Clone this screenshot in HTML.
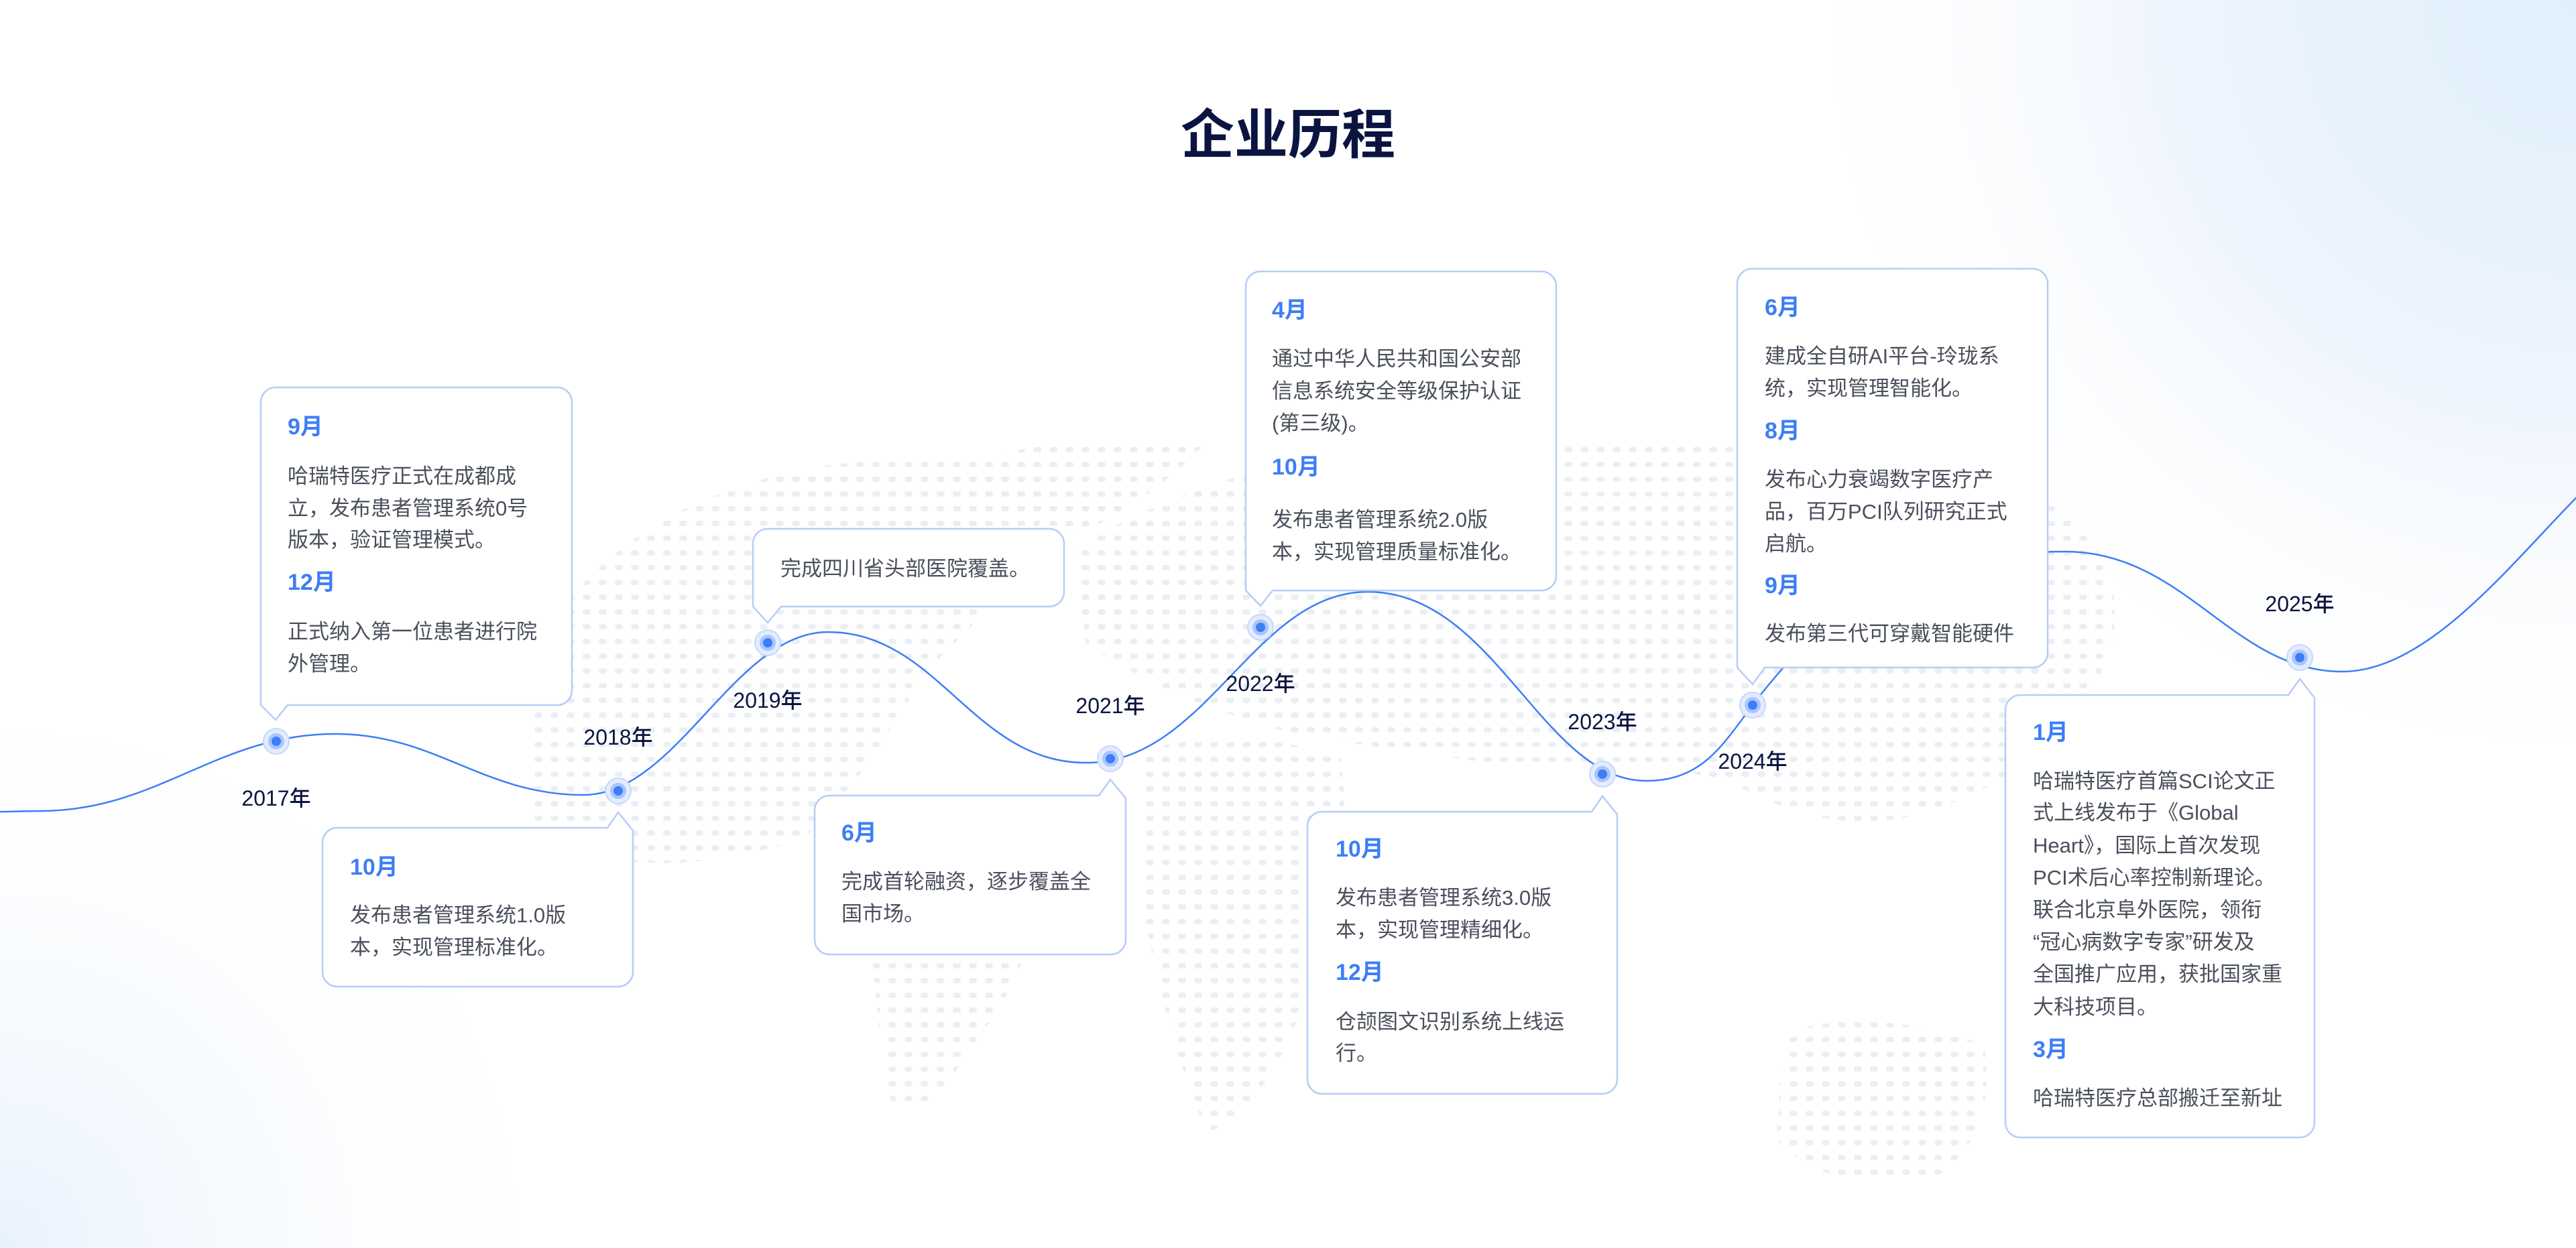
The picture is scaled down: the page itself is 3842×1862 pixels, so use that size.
<!DOCTYPE html>
<html><head><meta charset="utf-8">
<style>
html,body{margin:0;padding:0}
body{width:3842px;height:1862px;position:relative;overflow:hidden;background:#fff;font-family:"Liberation Sans","Noto Sans CJK SC",sans-serif}
svg{position:absolute;left:0;top:0}
.t{position:absolute;white-space:nowrap;line-height:48px;height:48px;font-size:31px;color:#4a4f5c}
.m{position:absolute;white-space:nowrap;line-height:48px;height:48px;font-size:34px;font-weight:bold;color:#3d7ef6}
.title{position:absolute;left:0;width:3842px;top:152px;text-align:center;font-size:80px;line-height:100px;font-weight:bold;color:#0b1440}
</style></head><body>
<svg width="3842" height="1862" viewBox="0 0 3842 1862">
<defs>
<radialGradient id="gtr" cx="3842" cy="0" r="1200" gradientUnits="userSpaceOnUse">
<stop offset="0" stop-color="#dff0fc"/><stop offset="0.5" stop-color="#eef4fd"/><stop offset="1" stop-color="#ffffff" stop-opacity="0"/></radialGradient>
<radialGradient id="gbl" cx="0" cy="1862" r="900" gradientUnits="userSpaceOnUse">
<stop offset="0" stop-color="#e8f2fd"/><stop offset="1" stop-color="#ffffff" stop-opacity="0"/></radialGradient>
<pattern id="dots" width="24" height="22" patternUnits="userSpaceOnUse">
<rect x="5" y="7" width="12" height="8" rx="4" fill="#dde4ef"/></pattern>
</defs>
<rect width="3842" height="1862" fill="#fff"/>
<rect width="3842" height="1862" fill="url(#gtr)"/>
<rect width="3842" height="1862" fill="url(#gbl)"/>
<g fill="url(#dots)" opacity="0.6">
<path d="M780 1000 Q900 760 1200 700 Q1500 650 1560 760 Q1500 900 1380 1000 Q1300 1150 1200 1250 Q1000 1320 800 1260 Z"/>
<path d="M1400 700 Q1600 640 1800 660 Q1700 760 1600 800 Z"/>
<path d="M1600 820 Q1900 640 2300 660 Q2700 640 3000 720 Q3180 800 3150 960 Q3100 1120 2950 1180 Q2800 1260 2650 1200 Q2500 1120 2300 1150 Q2100 1120 1950 1100 Q1750 1050 1620 960 Z"/>
<path d="M1700 1120 Q1850 1080 2000 1130 Q2020 1300 1960 1450 Q1900 1650 1800 1690 Q1720 1500 1700 1300 Z"/>
<path d="M1300 1230 Q1450 1220 1560 1300 Q1540 1450 1450 1560 Q1380 1680 1330 1650 Q1290 1450 1300 1230 Z"/>
<path d="M2660 1540 Q2800 1500 2960 1560 Q2980 1700 2880 1760 Q2720 1780 2650 1700 Z"/>
</g>
<path d="M-100 1212 C 10 1212 30 1210 60 1210 C 236 1210 324 1095 500 1095 C 650 1095 720 1186 870 1186 C 1010 1186 1095 943 1235 943 C 1400 943 1450 1138 1620 1138 C 1800 1138 1870 883 2040 883 C 2230 883 2300 1165 2455 1165 C 2540 1165 2570 1110 2614 1052 C 2680 965 2800 823 3080 823 C 3260 823 3330 1002 3493 1002 C 3630 1002 3760 820 3870 715" fill="none" stroke="#3d7ef6" stroke-width="2.5"/>
<g fill="#fff" stroke="#b7cdf7" stroke-width="2.5">
<path d="M411 578 H831 A22 22 0 0 1 853 600 V1030 A22 22 0 0 1 831 1052 H429 L411 1074 L389 1052 V600 A22 22 0 0 1 411 578 Z"/>
<path d="M503 1235 H906 L922 1212 L944 1239 V1450 A22 22 0 0 1 922 1472 H503 A22 22 0 0 1 481 1450 V1257 A22 22 0 0 1 503 1235 Z"/>
<path d="M1145 789 H1565 A22 22 0 0 1 1587 811 V883 A22 22 0 0 1 1565 905 H1165 L1145 929 L1123 905 V811 A22 22 0 0 1 1145 789 Z"/>
<path d="M1237 1187 H1639 L1656 1163 L1679 1191 V1402 A22 22 0 0 1 1657 1424 H1237 A22 22 0 0 1 1215 1402 V1209 A22 22 0 0 1 1237 1187 Z"/>
<path d="M1880 405 H2299 A22 22 0 0 1 2321 427 V859 A22 22 0 0 1 2299 881 H1898 L1880 904 L1858 881 V427 A22 22 0 0 1 1880 405 Z"/>
<path d="M1972 1211 H2374 L2390 1188 L2412 1215 V1610 A22 22 0 0 1 2390 1632 H1972 A22 22 0 0 1 1950 1610 V1233 A22 22 0 0 1 1972 1211 Z"/>
<path d="M2613 401 H3032 A22 22 0 0 1 3054 423 V974 A22 22 0 0 1 3032 996 H2632 L2614 1021 L2591 996 V423 A22 22 0 0 1 2613 401 Z"/>
<path d="M3013 1037 H3413 L3430 1013 L3452 1041 V1675 A22 22 0 0 1 3430 1697 H3013 A22 22 0 0 1 2991 1675 V1059 A22 22 0 0 1 3013 1037 Z"/>
</g>
<g>
<g transform="translate(412,1106)"><circle r="19" fill="#e3ecfe" stroke="#c4d7fb" stroke-width="2"/><circle r="12" fill="#a9c5fb"/><circle r="7" fill="#3d7ef6"/></g>
<g transform="translate(922,1180)"><circle r="19" fill="#e3ecfe" stroke="#c4d7fb" stroke-width="2"/><circle r="12" fill="#a9c5fb"/><circle r="7" fill="#3d7ef6"/></g>
<g transform="translate(1145,959)"><circle r="19" fill="#e3ecfe" stroke="#c4d7fb" stroke-width="2"/><circle r="12" fill="#a9c5fb"/><circle r="7" fill="#3d7ef6"/></g>
<g transform="translate(1656,1132)"><circle r="19" fill="#e3ecfe" stroke="#c4d7fb" stroke-width="2"/><circle r="12" fill="#a9c5fb"/><circle r="7" fill="#3d7ef6"/></g>
<g transform="translate(1880,936)"><circle r="19" fill="#e3ecfe" stroke="#c4d7fb" stroke-width="2"/><circle r="12" fill="#a9c5fb"/><circle r="7" fill="#3d7ef6"/></g>
<g transform="translate(2390,1155)"><circle r="19" fill="#e3ecfe" stroke="#c4d7fb" stroke-width="2"/><circle r="12" fill="#a9c5fb"/><circle r="7" fill="#3d7ef6"/></g>
<g transform="translate(2614,1052)"><circle r="19" fill="#e3ecfe" stroke="#c4d7fb" stroke-width="2"/><circle r="12" fill="#a9c5fb"/><circle r="7" fill="#3d7ef6"/></g>
<g transform="translate(3430,981)"><circle r="19" fill="#e3ecfe" stroke="#c4d7fb" stroke-width="2"/><circle r="12" fill="#a9c5fb"/><circle r="7" fill="#3d7ef6"/></g>
</g>
<g font-family="Liberation Sans, Noto Sans CJK SC, sans-serif" font-size="32" fill="#0b1440" text-anchor="middle" font-weight="500">
<text x="412" y="1202">2017年</text>
<text x="922" y="1111">2018年</text>
<text x="1145" y="1056">2019年</text>
<text x="1656" y="1064">2021年</text>
<text x="1880" y="1031">2022年</text>
<text x="2390" y="1088">2023年</text>
<text x="2614" y="1147">2024年</text>
<text x="3430" y="912">2025年</text>
</g>
</svg>
<div class="title">企业历程</div>

<div class="m" style="left:429px;top:613px">9月</div>
<div class="t" style="left:429px;top:687px">哈瑞特医疗正式在成都成</div>
<div class="t" style="left:429px;top:735px">立，发布患者管理系统0号</div>
<div class="t" style="left:429px;top:782px">版本，验证管理模式。</div>
<div class="m" style="left:429px;top:845px">12月</div>
<div class="t" style="left:429px;top:919px">正式纳入第一位患者进行院</div>
<div class="t" style="left:429px;top:967px">外管理。</div>

<div class="m" style="left:522px;top:1270px">10月</div>
<div class="t" style="left:522px;top:1342px">发布患者管理系统1.0版</div>
<div class="t" style="left:522px;top:1390px">本，实现管理标准化。</div>

<div class="t" style="left:1164px;top:825px">完成四川省头部医院覆盖。</div>

<div class="m" style="left:1255px;top:1219px">6月</div>
<div class="t" style="left:1255px;top:1292px">完成首轮融资，逐步覆盖全</div>
<div class="t" style="left:1255px;top:1340px">国市场。</div>

<div class="m" style="left:1897px;top:439px">4月</div>
<div class="t" style="left:1897px;top:512px">通过中华人民共和国公安部</div>
<div class="t" style="left:1897px;top:560px">信息系统安全等级保护认证</div>
<div class="t" style="left:1897px;top:608px">(第三级)。</div>
<div class="m" style="left:1897px;top:673px">10月</div>
<div class="t" style="left:1897px;top:752px">发布患者管理系统2.0版</div>
<div class="t" style="left:1897px;top:800px">本，实现管理质量标准化。</div>

<div class="m" style="left:1992px;top:1243px">10月</div>
<div class="t" style="left:1992px;top:1316px">发布患者管理系统3.0版</div>
<div class="t" style="left:1992px;top:1364px">本，实现管理精细化。</div>
<div class="m" style="left:1992px;top:1427px">12月</div>
<div class="t" style="left:1992px;top:1501px">仓颉图文识别系统上线运</div>
<div class="t" style="left:1992px;top:1548px">行。</div>

<div class="m" style="left:2632px;top:435px">6月</div>
<div class="t" style="left:2632px;top:508px">建成全自研AI平台-玲珑系</div>
<div class="t" style="left:2632px;top:556px">统，实现管理智能化。</div>
<div class="m" style="left:2632px;top:619px">8月</div>
<div class="t" style="left:2632px;top:692px">发布心力衰竭数字医疗产</div>
<div class="t" style="left:2632px;top:740px">品，百万PCI队列研究正式</div>
<div class="t" style="left:2632px;top:788px">启航。</div>
<div class="m" style="left:2632px;top:850px">9月</div>
<div class="t" style="left:2632px;top:922px">发布第三代可穿戴智能硬件</div>

<div class="m" style="left:3032px;top:1069px">1月</div>
<div class="t" style="left:3032px;top:1142px">哈瑞特医疗首篇SCI论文正</div>
<div class="t" style="left:3032px;top:1189px">式上线发布于《Global</div>
<div class="t" style="left:3032px;top:1238px">Heart》，国际上首次发现</div>
<div class="t" style="left:3032px;top:1286px">PCI术后心率控制新理论。</div>
<div class="t" style="left:3032px;top:1334px">联合北京阜外医院，领衔</div>
<div class="t" style="left:3032px;top:1382px">“冠心病数字专家”研发及</div>
<div class="t" style="left:3032px;top:1430px">全国推广应用，获批国家重</div>
<div class="t" style="left:3032px;top:1479px">大科技项目。</div>
<div class="m" style="left:3032px;top:1542px">3月</div>
<div class="t" style="left:3032px;top:1615px">哈瑞特医疗总部搬迁至新址</div>
</body></html>
